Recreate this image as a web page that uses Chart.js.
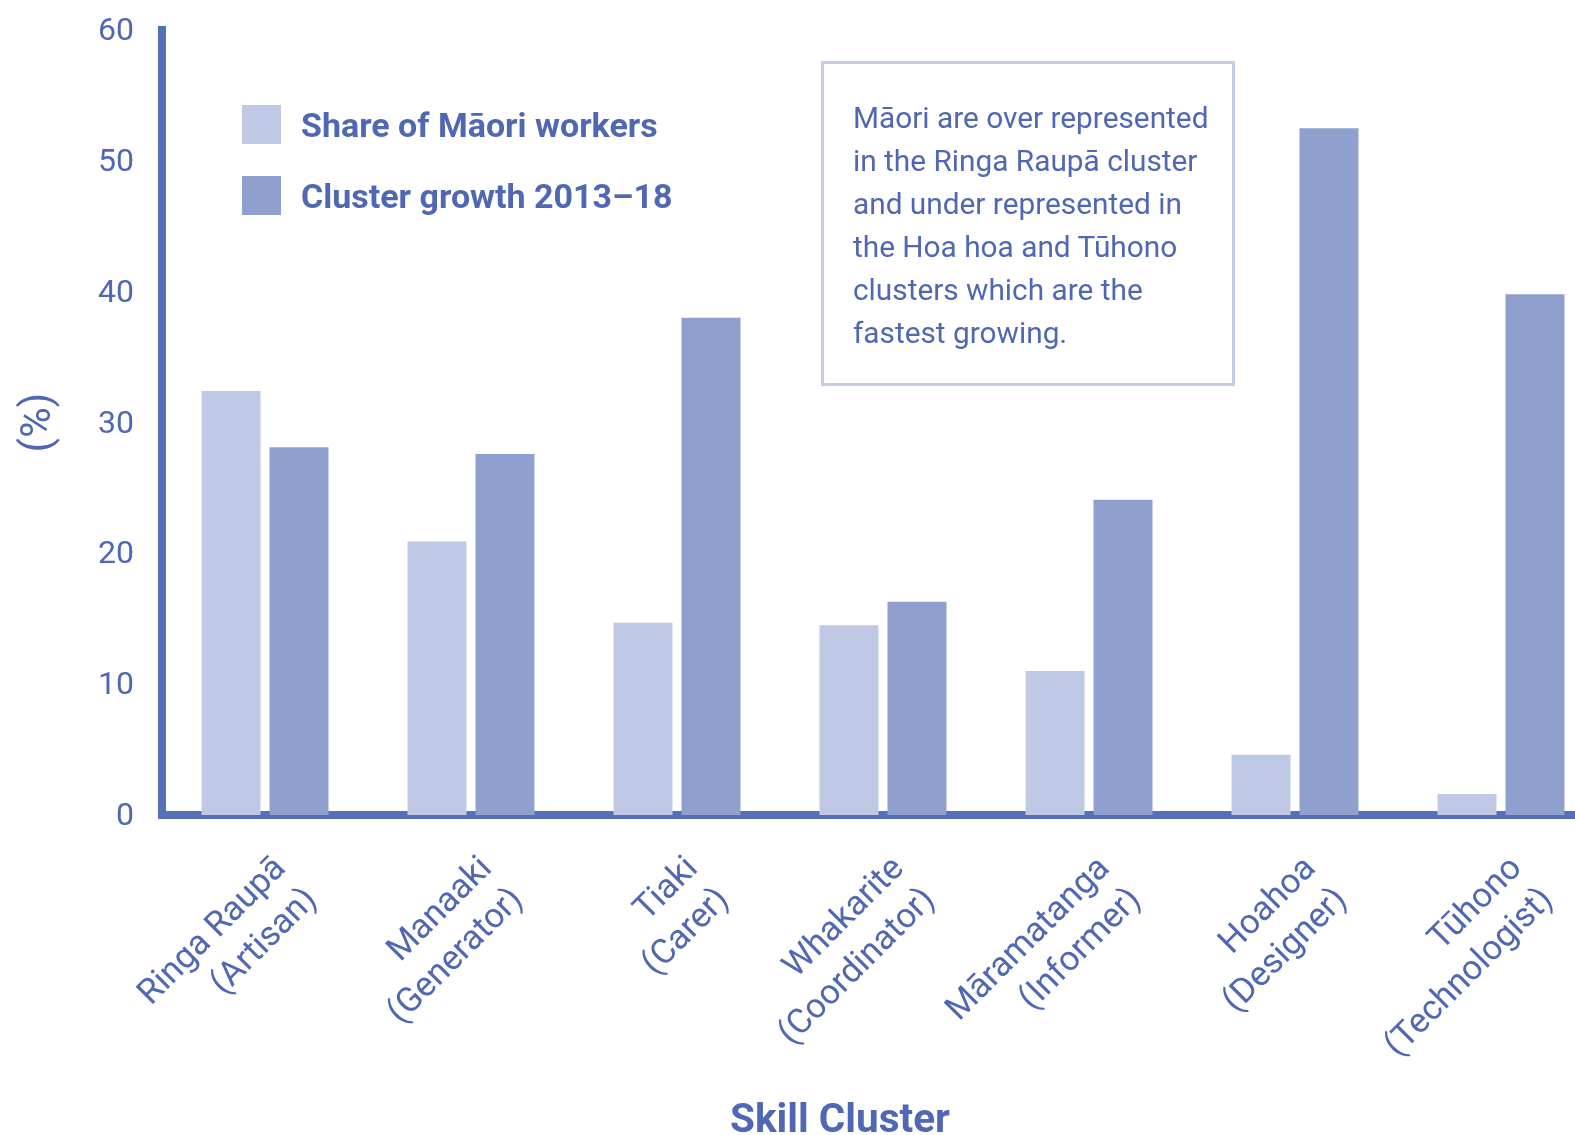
<!DOCTYPE html>
<html>
<head>
<meta charset="utf-8">
<script src="https://cdn.jsdelivr.net/npm/chart.js@4.4.1/dist/chart.umd.min.js"></script>
<style>
  html, body { margin:0; padding:0; background:#ffffff; overflow:hidden; width:1575px; height:1135px; }
  #wrap { position:relative; width:1624px; height:1135px; }
  #chart { position:absolute; left:0; top:0; }
  .legend { position:absolute; left:242px; top:105px; font-family:Roboto, sans-serif; font-weight:700; font-size:34px; color:#5068b3; }
  .legend .item { position:relative; height:39px; margin-bottom:32px; }
  .legend .box { position:absolute; left:0; top:0; width:39px; height:39px; }
  .legend .lbl { position:absolute; left:59px; top:1px; line-height:39px; white-space:nowrap; }
  .note { position:absolute; left:821px; top:61px; width:414px; height:325px; box-sizing:border-box;
          border:3px solid #c4cce8; padding:32px 0 0 29px; font-family:Roboto, sans-serif; font-size:29.8px;
          line-height:43px; color:#5068b3; white-space:nowrap; }
  .xtitle { position:absolute; left:640px; width:400px; top:1098px; text-align:center; font-family:Roboto, sans-serif;
            font-weight:700; font-size:40.5px; line-height:40px; color:#5068b3; }
</style>
</head>
<body>
<div id="wrap">
  <canvas id="chart" width="1624" height="1135"></canvas>
  <div class="legend" id="legend"></div>
  <div class="note">Māori are over represented<br>in the Ringa Raupā cluster<br>and under represented in<br>the Hoa hoa and Tūhono<br>clusters which are the<br>fastest growing.</div>
  <div class="xtitle" id="xtitle"></div>
</div>
<script>
// ---- data ----
const categories = [
  ['Ringa Raupā', '(Artisan)'],
  ['Manaaki', '(Generator)'],
  ['Tiaki', '(Carer)'],
  ['Whakarite', '(Coordinator)'],
  ['Māramatanga', '(Informer)'],
  ['Hoahoa', '(Designer)'],
  ['Tūhono', '(Technologist)']
];
const shareMaoriWorkers = [32.4, 20.9, 14.7, 14.5, 11.0, 4.6, 1.6];
const clusterGrowth = [28.1, 27.6, 38.0, 16.3, 24.1, 52.5, 39.8];
const seriesNames = ['Share of Māori workers', 'Cluster growth 2013–18'];
const yTicks = [0, 10, 20, 30, 40, 50, 60];
const yTitle = '(%)';
const xTitle = 'Skill Cluster';

const textColor = '#5068b3';
const axisColor = '#5470b8';
const seriesColors = ['#bfc8e4', '#8fa0cf'];

const datasets = [shareMaoriWorkers, clusterGrowth].map((vals, i) => ({
  label: seriesNames[i],
  data: vals,
  backgroundColor: seriesColors[i],
  borderWidth: 0,
  categoryPercentage: 0.66,
  barPercentage: 0.868
}));

// HTML legend from datasets
const legendEl = document.getElementById('legend');
datasets.forEach(ds => {
  const it = document.createElement('div'); it.className = 'item';
  const b = document.createElement('div'); b.className = 'box'; b.style.background = ds.backgroundColor;
  const l = document.createElement('div'); l.className = 'lbl'; l.textContent = ds.label;
  it.appendChild(b); it.appendChild(l); legendEl.appendChild(it);
});
document.getElementById('xtitle').textContent = xTitle;

new Chart(document.getElementById('chart'), {
  type: 'bar',
  data: { labels: categories, datasets },
  options: {
    responsive: false,
    animation: false,
    devicePixelRatio: 1,
    layout: { padding: { top: 30, right: 20, left: 0, bottom: 0 } },
    plugins: { legend: { display: false }, tooltip: { enabled: false } },
    scales: {
      x: {
        offset: true,
        grid: { display: false, drawTicks: false },
        border: { display: true, width: 8, color: axisColor },
        ticks: {
          autoSkip: false, minRotation: 45, maxRotation: 45,
          padding: 33, labelOffset: 16,
          color: textColor,
          font: { family: 'Roboto', size: 34.5, lineHeight: 1.28 }
        },
        afterFit: s => { s.height = 320; s.paddingLeft = 0; s.paddingRight = 0; }
      },
      y: {
        min: 0, max: 60,
        afterBuildTicks: s => { s.ticks = yTicks.map(v => ({ value: v })); },
        grid: { display: false, drawTicks: false },
        border: { display: true, width: 8, color: axisColor },
        ticks: { padding: 28, labelOffset: 2, color: textColor, font: { family: 'Roboto', size: 32 } },
        title: { display: true, text: yTitle, color: textColor, padding: { top: 14, bottom: 0 },
                 font: { family: 'Roboto', size: 42 } },
        afterFit: s => { s.width = 162; s.paddingTop = 0; s.paddingBottom = 0; }
      }
    }
  }
});
</script>
</body>
</html>
